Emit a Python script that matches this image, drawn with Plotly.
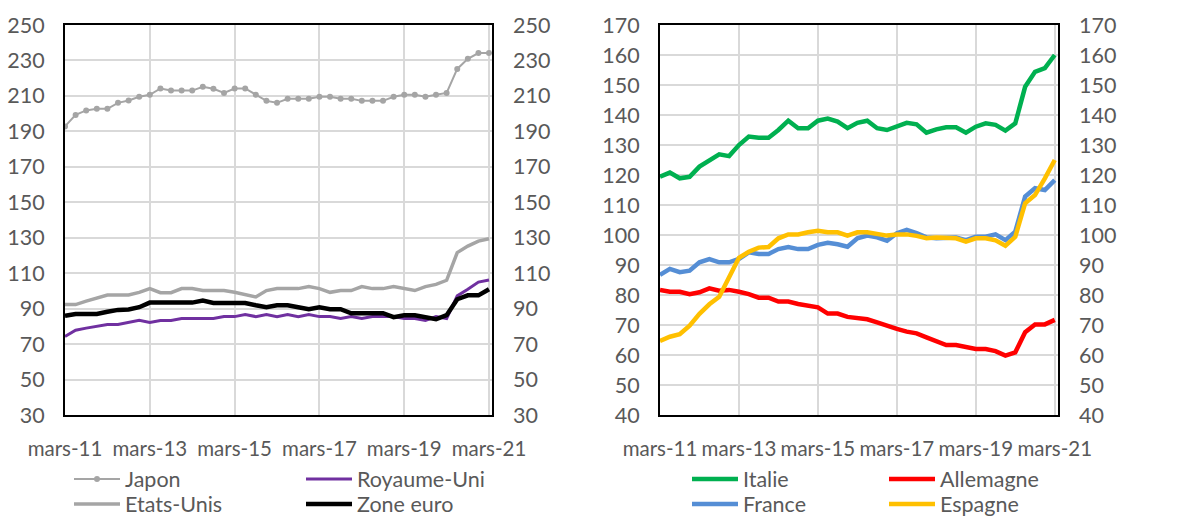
import plotly.graph_objects as go

# ---------------- data ----------------
tick_labels = ["mars-11", "mars-13", "mars-15", "mars-17", "mars-19", "mars-21"]
tick_positions = [0, 8, 16, 24, 32, 40]
quarters = list(range(41))

japon = [192.8, 199.3, 201.8, 202.7, 202.7, 206.1, 207.4, 209.5, 210.6, 214.2,
         213.0, 213.0, 213.0, 215.1, 214.0, 211.7, 214.2, 214.2, 210.6, 207.2,
         206.1, 208.4, 208.4, 208.4, 209.5, 209.5, 208.4, 208.4, 207.2, 207.2,
         207.2, 209.5, 210.6, 210.6, 209.5, 210.6, 211.7, 225.2, 230.9, 234.2, 234.2]
etats_unis = [92.3, 92.3, 94.2, 95.7, 97.7, 97.7, 97.7, 99.2, 101.3, 99.0,
              99.0, 101.3, 101.3, 100.2, 100.2, 100.2, 99.2, 97.9, 96.6, 100.2,
              101.3, 101.3, 101.3, 102.4, 101.3, 99.2, 100.2, 100.2, 102.4, 101.3,
              101.3, 102.4, 101.3, 100.2, 102.4, 103.7, 106.0, 121.6, 125.3, 128.1, 129.4]
zone_euro = [85.9, 87.0, 87.0, 87.0, 88.2, 89.3, 89.5, 90.8, 93.4, 93.4,
             93.4, 93.4, 93.4, 94.5, 93.2, 93.2, 93.2, 93.2, 91.9, 90.8,
             91.9, 91.9, 90.8, 89.7, 90.8, 89.7, 89.7, 87.4, 87.4, 87.4,
             87.4, 85.2, 86.3, 86.3, 85.2, 84.0, 86.3, 95.3, 97.5, 97.5, 100.9]
royaume_uni = [74.3, 77.8, 79.0, 80.1, 81.0, 81.0, 82.2, 83.5, 82.2, 83.3,
               83.3, 84.4, 84.4, 84.4, 84.4, 85.5, 85.5, 86.7, 85.5, 86.7,
               85.5, 86.7, 85.5, 86.7, 85.5, 85.5, 84.4, 85.5, 84.4, 85.5,
               85.5, 85.5, 84.4, 84.4, 83.3, 85.5, 84.4, 97.2, 100.9, 105.0, 106.2]

italie = [119.4, 120.8, 118.9, 119.4, 122.8, 124.8, 126.9, 126.3, 130.0, 132.8,
          132.4, 132.4, 135.0, 138.1, 135.6, 135.6, 138.1, 138.8, 137.8, 135.6,
          137.4, 138.1, 135.6, 135.0, 136.1, 137.4, 136.9, 134.1, 135.2, 135.9,
          135.9, 134.1, 136.1, 137.2, 136.7, 134.8, 137.2, 149.4, 154.4, 155.6, 160.0]
allemagne = [81.7, 81.1, 81.1, 80.3, 80.9, 82.2, 81.4, 81.7, 81.1, 80.3,
             79.1, 79.1, 77.8, 77.8, 77.0, 76.4, 75.9, 73.8, 73.8, 72.7,
             72.4, 71.9, 70.9, 69.7, 68.7, 67.8, 67.2, 65.9, 64.4, 63.3,
             63.3, 62.8, 62.0, 62.0, 61.3, 59.8, 60.9, 67.6, 70.2, 70.2, 71.7]
france = [86.7, 88.7, 87.6, 88.1, 90.9, 92.0, 90.9, 90.9, 92.0, 94.2,
          93.7, 93.7, 95.3, 96.0, 95.3, 95.3, 96.7, 97.4, 96.9, 96.1,
          98.9, 99.8, 99.2, 98.1, 100.6, 101.7, 100.6, 99.2, 98.9, 98.9,
          99.2, 98.3, 99.4, 99.4, 100.2, 98.3, 101.1, 112.8, 115.6, 115.0, 118.3]
espagne = [64.7, 66.1, 66.9, 69.8, 73.7, 76.9, 79.4, 86.1, 92.4, 94.4,
           95.8, 96.0, 98.9, 100.2, 100.2, 100.9, 101.4, 100.9, 100.9, 99.8,
           100.9, 100.9, 100.2, 99.8, 100.2, 100.2, 99.7, 98.9, 99.2, 98.9,
           98.9, 97.8, 98.9, 98.9, 98.2, 96.4, 99.4, 110.6, 113.3, 118.9, 125.0]

# ---------------- layout constants ----------------
W, H = 1181, 516
FONT = "Lato"
TXT = "#595959"
FS = 21.5
FSX = 20.5
GRID = "#d9d9d9"

fig = go.Figure()

# left panel
fig.add_trace(go.Scatter(x=quarters, y=japon, name="Japon", mode="lines+markers",
                         line=dict(color="#a5a5a5", width=2),
                         marker=dict(size=6, color="#a5a5a5"),
                         xaxis="x", yaxis="y", legend="legend"))
fig.add_trace(go.Scatter(x=quarters, y=royaume_uni, name="Royaume-Uni", mode="lines",
                         line=dict(color="#7030a0", width=3),
                         xaxis="x", yaxis="y", legend="legend2"))
fig.add_trace(go.Scatter(x=quarters, y=etats_unis, name="Etats-Unis", mode="lines",
                         line=dict(color="#a5a5a5", width=3.5),
                         xaxis="x", yaxis="y", legend="legend3"))
fig.add_trace(go.Scatter(x=quarters, y=zone_euro, name="Zone euro", mode="lines",
                         line=dict(color="#000000", width=4.5),
                         xaxis="x", yaxis="y2", legend="legend4"))

# right panel
fig.add_trace(go.Scatter(x=quarters, y=italie, name="Italie", mode="lines",
                         line=dict(color="#00b050", width=4.5),
                         xaxis="x2", yaxis="y3", legend="legend5"))
fig.add_trace(go.Scatter(x=quarters, y=allemagne, name="Allemagne", mode="lines",
                         line=dict(color="#ff0000", width=4.5),
                         xaxis="x2", yaxis="y3", legend="legend6"))
fig.add_trace(go.Scatter(x=quarters, y=france, name="France", mode="lines",
                         line=dict(color="#558ed5", width=4.5),
                         xaxis="x2", yaxis="y3", legend="legend7"))
fig.add_trace(go.Scatter(x=quarters, y=espagne, name="Espagne", mode="lines",
                         line=dict(color="#ffc000", width=4.5),
                         xaxis="x2", yaxis="y4", legend="legend8"))

ydom = [1 - 415 / H, 1 - 25 / H]
tickfont = dict(family=FONT, size=FS, color=TXT)
xtickfont = dict(family=FONT, size=FSX, color=TXT)

def xax(dom, anchor, rmax):
    return dict(domain=dom, anchor=anchor, range=[0, rmax],
                tickvals=tick_positions, ticktext=tick_labels, tickangle=0,
                showgrid=True, gridcolor=GRID, gridwidth=2,
                showline=True, linecolor="black", linewidth=2, mirror=True,
                zeroline=False, ticks="", tickfont=xtickfont, ticklabelstandoff=14)

def yax(rng, dtick, anchor, side="left", overlaying=None, grid=True, standoff=14):
    d = dict(domain=ydom, anchor=anchor, range=rng, dtick=dtick, tick0=rng[0],
             showgrid=grid, gridcolor=GRID, gridwidth=2, zeroline=False,
             ticks="", tickfont=tickfont, side=side, ticklabelstandoff=standoff)
    if overlaying:
        d["overlaying"] = overlaying
        d["showline"] = False
    else:
        d["showline"] = True
        d["linecolor"] = "black"
        d["linewidth"] = 2
        d["mirror"] = True
    return d

legend_font = dict(family=FONT, size=FS, color=TXT)

def leg(xpx, ypx):
    return dict(x=xpx / W, y=1 - ypx / H, xanchor="left", yanchor="middle",
                orientation="h", font=legend_font, bgcolor="rgba(0,0,0,0)",
                borderwidth=0, itemwidth=46, tracegroupgap=0)

fig.update_layout(
    width=W, height=H,
    paper_bgcolor="white", plot_bgcolor="white",
    margin=dict(l=0, r=0, t=0, b=0, autoexpand=False),
    showlegend=True,
    xaxis=xax([65 / W, 492 / W], "y", 40.28),
    yaxis=yax([30, 250], 20, "x"),
    yaxis2=yax([30, 250], 20, "x", side="right", overlaying="y", grid=False, standoff=20),
    xaxis2=xax([660 / W, 1058 / W], "y3", 40.33),
    yaxis3=yax([40, 170], 10, "x2"),
    yaxis4=yax([40, 170], 10, "x2", side="right", overlaying="y3", grid=False, standoff=20),
    legend=leg(69, 479),
    legend2=leg(301, 479),
    legend3=leg(69, 504),
    legend4=leg(301, 504),
    legend5=leg(687, 479),
    legend6=leg(884, 479),
    legend7=leg(687, 504),
    legend8=leg(884, 504),
)

fig.write_html(
    "out.html",
    config={"displayModeBar": False},
    post_script="document.body.style.margin='0';document.body.style.overflow='hidden';",
)
